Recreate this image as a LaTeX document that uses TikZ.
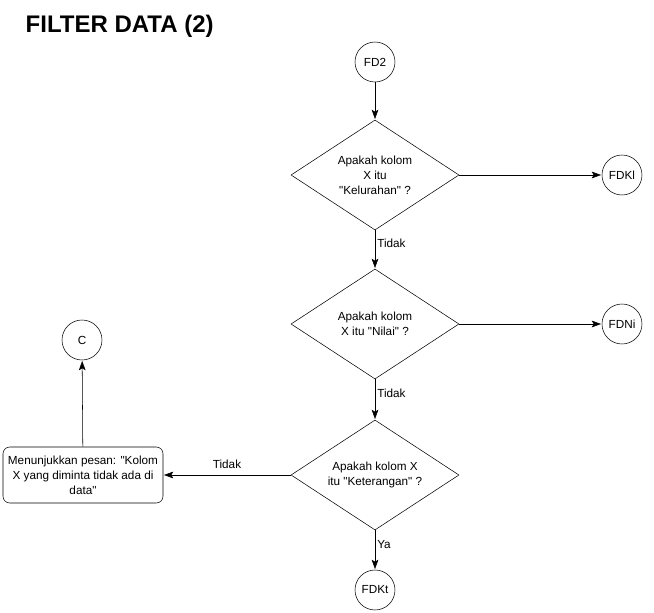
\documentclass[tikz,border=0pt]{standalone}
\usepackage{fontspec}
\setmainfont{Liberation Sans}[Ligatures=TeXOff]
\usetikzlibrary{shapes.geometric,arrows.meta}

\begin{document}
\begin{tikzpicture}[x=0.75pt,y=-0.75pt,shorten >=0.5pt,auto,font=\fontsize{8.8}{11.25}\selectfont]
\tikzstyle{decision}=[diamond,draw,aspect=1.53,inner sep=0pt,minimum width=126pt,minimum height=82.5pt,align=center]
\tikzstyle{connector}=[circle,draw,minimum size=30pt,inner sep=0pt]
\tikzstyle{process}=[rectangle,draw,rounded corners=5pt,minimum width=120pt,minimum height=42pt,align=center]
\tikzstyle{flow}=[-{Stealth[length=7pt,width=5pt,inset=1.5pt]}]
\tikzstyle{lbl}=[inner sep=1.5pt,draw=none]
\useasboundingbox (0,0) rectangle (654,613);

\node[anchor=base west,font=\bfseries\fontsize{18}{20}\selectfont] (title) at (21,33) {FILTER DATA (2)};

\node[connector](FD2) at (375,62) {FD2};
\node[decision](kel) at (375,175) {Apakah kolom\\X itu\\"Kelurahan" ?};
\node[connector](FDKl) at (622,175) {FDKl};
\node[decision](nil) at (375,324) {Apakah kolom\\X itu "Nilai" ?};
\node[connector](FDNi) at (622,324) {FDNi};
\node[decision](ket) at (375,475) {Apakah kolom X\\itu "Keterangan" ?};
\node[connector](FDKt) at (375,590) {FDKt};
\node[process](msg) at (83,475) {Menunjukkan pesan: "Kolom\\X yang diminta tidak ada di\\data"};
\node[connector](C) at (82,340) {C};

\path (FD2) edge[flow] (kel) % main line down
      (kel) edge[flow] (FDKl)
      (kel) edge[flow] node[lbl,right,pos=0.35] {Tidak} (nil)
      (nil) edge[flow] (FDNi)
      (nil) edge[flow] node[lbl,right,pos=0.35] {Tidak} (ket)
      (ket) edge[flow] node[lbl,above=3pt] {Tidak} (msg)
      (ket) edge[flow] node[lbl,right,pos=0.35] {Ya} (FDKt)
      (msg) edge[flow] (C);

\end{tikzpicture}
\end{document}
